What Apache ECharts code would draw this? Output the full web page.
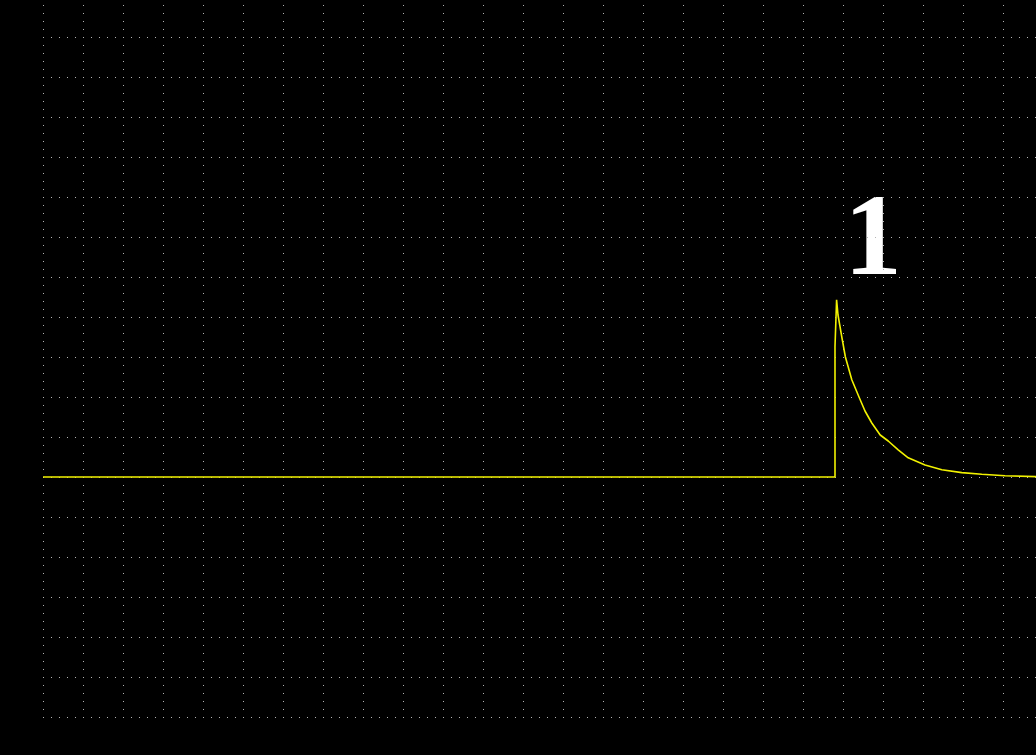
<!DOCTYPE html>
<html>
<head>
<meta charset="utf-8">
<script src="https://cdn.jsdelivr.net/npm/echarts@6/dist/echarts.min.js"></script>
<style>
  html, body { margin: 0; padding: 0; background: #000; }
  #chart { width: 1036px; height: 755px; }
</style>
</head>
<body>
<div id="chart"></div>
<script>
// trace in screen divisions (x: 25 divs, y: 18 divs)
const timeDiv = [0, 19.8, 19.8, 19.84, 19.875, 19.97, 20.06, 20.22, 20.4, 20.55, 20.72, 20.93, 21.13, 21.38, 21.63, 22.05, 22.47, 22.97, 23.47, 24.05, 24.83, 25];
const signalDiv = [6, 6, 9.26, 10.43, 10.05, 9.5, 9.0, 8.43, 8.0, 7.65, 7.35, 7.05, 6.9, 6.68, 6.48, 6.3, 6.18, 6.11, 6.07, 6.03, 6.01, 6.0];
const peakLabel = '1';

document.addEventListener('DOMContentLoaded', function () {
    const chart = echarts.init(document.getElementById('chart'));

    const gridLine = {
        show: true,
        lineStyle: { color: '#b4b4b4', width: 1, type: [1, 7] }
    };

    const option = {
        animation: false,
        backgroundColor: '#000',
        grid: { left: 43, top: -3, width: 1000, height: 720, outerBoundsMode: 'none' },
        xAxis: {
            type: 'value', min: 0, max: 25, interval: 1,
            axisLine: { show: false }, axisTick: { show: false }, axisLabel: { show: false },
            splitLine: gridLine
        },
        yAxis: {
            type: 'value', min: 0, max: 18, interval: 1,
            axisLine: { show: false }, axisTick: { show: false }, axisLabel: { show: false },
            splitLine: gridLine
        },
        graphic: [{
            type: 'text',
            x: 873,
            y: 244,
            style: {
                text: peakLabel,
                fill: '#fff',
                fontFamily: 'Liberation Serif',
                fontWeight: 'bold',
                fontSize: 116,
                textAlign: 'center',
                textVerticalAlign: 'middle'
            }
        }],
        series: [{
            type: 'line',
            symbol: 'none',
            data: timeDiv.map((t, i) => [t, signalDiv[i]]),
            lineStyle: { color: '#f2f200', width: 1.6 }
        }]
    };

    chart.setOption(option);
});
</script>
</body>
</html>
